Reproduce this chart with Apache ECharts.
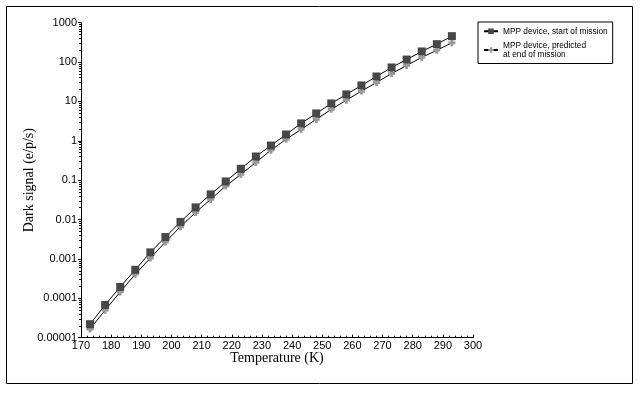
<!DOCTYPE html>
<html>
<head>
<meta charset="utf-8">
<script src="https://cdn.jsdelivr.net/npm/echarts@6/dist/echarts.min.js"></script>
<style>html,body{margin:0;padding:0;background:#fff}#c{width:643px;height:394px}</style>
</head>
<body>
<div id="c"></div>
<script>
const temperatures = [173,178,183,188,193,198,203,208,213,218,223,228,233,238,243,248,253,258,263,268,273,278,283,288,293];
const startOfMission = [2.2e-5,6.8e-5,1.95e-4,5.3e-4,1.47e-3,3.6e-3,8.7e-3,0.0204,0.0436,0.093,0.195,0.40,0.76,1.45,2.77,4.96,8.9,15.1,25.5,43,73,116,186,285,455];
const endOfMission = [1.66e-5,5.0e-5,1.45e-4,4.1e-4,1.05e-3,2.7e-3,6.6e-3,0.0152,0.0325,0.071,0.14,0.283,0.58,1.09,1.95,3.5,6.3,10.8,18.3,30.3,51,82,131,200,308];
const yTickLabels = {'-5':'0.00001','-4':'0.0001','-3':'0.001','-2':'0.01','-1':'0.1','0':'1','1':'10','2':'100','3':'1000'};
const seriesNames = ['MPP device, start of mission','MPP device, predicted\nat end of mission'];

const chart = echarts.init(document.getElementById('c'), null, {renderer:'canvas'});
const crossPath = 'path://M3,0 L7,0 L7,3 L10,3 L10,7 L7,7 L7,10 L3,10 L3,7 L0,7 L0,3 L3,3 Z';
const tickFont = {fontFamily:'Liberation Sans, Arial, sans-serif', fontSize:11, color:'#000'};
chart.setOption({
  animation:false,
  backgroundColor:'#fff',
  grid:{left:81, right:170, top:22.7, bottom:56.3},
  legend:{
    left:478, top:22, orient:'vertical',
    borderColor:'#000', borderWidth:1, padding:[5,5,5,5], itemGap:6,
    itemWidth:14, itemHeight:7,
    textStyle:{fontFamily:'Liberation Sans, Arial, sans-serif', fontSize:8.3, color:'#000', lineHeight:8.5},
    data:seriesNames
  },
  xAxis:{
    type:'value', min:170, max:300, interval:10,
    name:'Temperature (K)', nameLocation:'middle', nameGap:14, nameMoveOverlap:false,
    nameTextStyle:{fontFamily:'Liberation Serif, Times New Roman, serif', fontSize:14, color:'#000', verticalAlign:'top'},
    axisLine:{lineStyle:{color:'#000', width:1}},
    axisTick:{inside:true, length:3, lineStyle:{color:'#000'}},
    minorTick:{show:true, splitNumber:5, length:2, lineStyle:{color:'#000'}},
    axisLabel:Object.assign({margin:3}, tickFont),
    splitLine:{show:false}
  },
  yAxis:{
    type:'log', logBase:10, min:1e-5, max:1000,
    name:'Dark signal (e/p/s)', nameLocation:'middle', nameGap:45, nameMoveOverlap:false,
    nameTextStyle:{fontFamily:'Liberation Serif, Times New Roman, serif', fontSize:14, color:'#000'},
    axisLine:{show:true, lineStyle:{color:'#000', width:1}},
    axisTick:{show:true, inside:false, length:3, lineStyle:{color:'#000'}},
    minorTick:{show:true, splitNumber:9, length:2, lineStyle:{color:'#000'}},
    axisLabel:Object.assign({margin:4, formatter:function(v){const e=Math.round(Math.log10(v));return yTickLabels[String(e)]||'';}}, tickFont),
    splitLine:{show:false}
  },
  series:[
    {
      name:seriesNames[1], type:'line',
      data:temperatures.map((t,i)=>[t,endOfMission[i]]),
      symbol:crossPath, symbolSize:7,
      itemStyle:{color:'#9a9a9a'},
      lineStyle:{color:'#000', width:1},
      z:2
    },
    {
      name:seriesNames[0], type:'line',
      data:temperatures.map((t,i)=>[t,startOfMission[i]]),
      symbol:'rect', symbolSize:[8,8],
      itemStyle:{color:'#474747'},
      lineStyle:{color:'#000', width:1},
      z:3
    }
  ],
  graphic:[{type:'rect', shape:{x:6.5, y:6.5, width:626, height:377}, style:{fill:'none', stroke:'#000', lineWidth:1}, silent:true}]
});
</script>
</body>
</html>
